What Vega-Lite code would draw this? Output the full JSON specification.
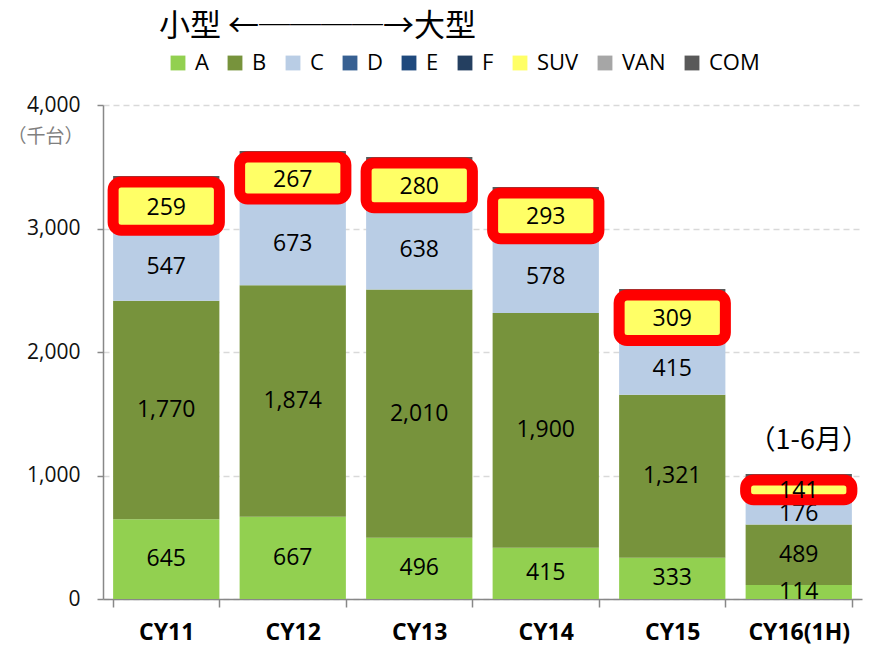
{
  "$schema": "https://vega.github.io/schema/vega-lite/v6.json",
  "width": 759,
  "height": 494,
  "autosize": {"type": "none"},
  "padding": {"left": 103, "top": 105, "right": 13, "bottom": 47},
  "background": "white",
  "config": {
    "font": "Open Sans, Noto Sans CJK JP",
    "view": {"stroke": null},
    "axisY": {
      "titleAngle": 0,
      "titleAlign": "right",
      "titleBaseline": "middle",
      "titleX": -20,
      "titleY": 31,
      "titleColor": "#7f7f7f",
      "titleFontWeight": "normal",
      "titleFont": "Noto Sans CJK JP",
      "labelColor": "#111111",
      "labelPadding": 17,
      "tickSize": 6,
      "tickColor": "#888888",
      "tickWidth": 1.5,
      "domainColor": "#888888",
      "domainWidth": 1.5,
      "grid": true,
      "gridColor": "#d9d9d9",
      "gridDash": [6, 4],
      "gridWidth": 1.3
    }
  },
  "title": {
    "text": "小型 ←────→大型",
    "anchor": "start",
    "frame": "group",
    "dx": 56,
    "offset": 9,
    "fontSize": 31,
    "font": "Noto Sans CJK JP",
    "fontWeight": "normal",
    "color": "black"
  },
  "datasets": {
    "sales": [
      {"year": "CY11", "seg": "A", "value": 645},
      {"year": "CY11", "seg": "B", "value": 1770},
      {"year": "CY11", "seg": "C", "value": 547},
      {"year": "CY11", "seg": "D", "value": 45},
      {"year": "CY11", "seg": "E", "value": 20},
      {"year": "CY11", "seg": "F", "value": 5},
      {"year": "CY11", "seg": "SUV", "value": 259},
      {"year": "CY11", "seg": "VAN", "value": 34},
      {"year": "CY11", "seg": "COM", "value": 100},
      {"year": "CY12", "seg": "A", "value": 667},
      {"year": "CY12", "seg": "B", "value": 1874},
      {"year": "CY12", "seg": "C", "value": 673},
      {"year": "CY12", "seg": "D", "value": 35},
      {"year": "CY12", "seg": "E", "value": 15},
      {"year": "CY12", "seg": "F", "value": 5},
      {"year": "CY12", "seg": "SUV", "value": 267},
      {"year": "CY12", "seg": "VAN", "value": 21},
      {"year": "CY12", "seg": "COM", "value": 70},
      {"year": "CY13", "seg": "A", "value": 496},
      {"year": "CY13", "seg": "B", "value": 2010},
      {"year": "CY13", "seg": "C", "value": 638},
      {"year": "CY13", "seg": "D", "value": 35},
      {"year": "CY13", "seg": "E", "value": 15},
      {"year": "CY13", "seg": "F", "value": 5},
      {"year": "CY13", "seg": "SUV", "value": 280},
      {"year": "CY13", "seg": "VAN", "value": 25},
      {"year": "CY13", "seg": "COM", "value": 75},
      {"year": "CY14", "seg": "A", "value": 415},
      {"year": "CY14", "seg": "B", "value": 1900},
      {"year": "CY14", "seg": "C", "value": 578},
      {"year": "CY14", "seg": "D", "value": 35},
      {"year": "CY14", "seg": "E", "value": 15},
      {"year": "CY14", "seg": "F", "value": 5},
      {"year": "CY14", "seg": "SUV", "value": 293},
      {"year": "CY14", "seg": "VAN", "value": 25},
      {"year": "CY14", "seg": "COM", "value": 70},
      {"year": "CY15", "seg": "A", "value": 333},
      {"year": "CY15", "seg": "B", "value": 1321},
      {"year": "CY15", "seg": "C", "value": 415},
      {"year": "CY15", "seg": "D", "value": 30},
      {"year": "CY15", "seg": "E", "value": 12},
      {"year": "CY15", "seg": "F", "value": 5},
      {"year": "CY15", "seg": "SUV", "value": 309},
      {"year": "CY15", "seg": "VAN", "value": 20},
      {"year": "CY15", "seg": "COM", "value": 65},
      {"year": "CY16(1H)", "seg": "A", "value": 114},
      {"year": "CY16(1H)", "seg": "B", "value": 489},
      {"year": "CY16(1H)", "seg": "C", "value": 176},
      {"year": "CY16(1H)", "seg": "D", "value": 20},
      {"year": "CY16(1H)", "seg": "E", "value": 8},
      {"year": "CY16(1H)", "seg": "F", "value": 2},
      {"year": "CY16(1H)", "seg": "SUV", "value": 141},
      {"year": "CY16(1H)", "seg": "VAN", "value": 12},
      {"year": "CY16(1H)", "seg": "COM", "value": 50}
    ],
    "segs": [
      {"seg": "A", "tier": "body", "rank": 1},
      {"seg": "B", "tier": "body", "rank": 2},
      {"seg": "C", "tier": "body", "rank": 3},
      {"seg": "D", "tier": "top", "rank": 4},
      {"seg": "E", "tier": "top", "rank": 5},
      {"seg": "F", "tier": "top", "rank": 6},
      {"seg": "SUV", "tier": "top", "rank": 7},
      {"seg": "VAN", "tier": "top", "rank": 8},
      {"seg": "COM", "tier": "top", "rank": 9}
    ]
  },
  "data": {"name": "sales"},
  "transform": [
    {"lookup": "seg", "from": {"data": {"name": "segs"}, "key": "seg", "fields": ["tier", "rank"]}}
  ],
  "encoding": {
    "x": {
      "field": "year",
      "type": "nominal",
      "sort": ["CY11", "CY12", "CY13", "CY14", "CY15", "CY16(1H)"],
      "scale": {"paddingInner": 0.16, "paddingOuter": 0.08},
      "axis": {
        "title": null,
        "labelAngle": 0,
        "labelFontSize": 23,
        "labelFontWeight": "bold",
        "labelColor": "black",
        "tickSize": 8,
        "tickBand": "extent",
        "tickColor": "#888888",
        "tickWidth": 1.5,
        "domainColor": "#888888",
        "domainWidth": 1.5,
        "labelPadding": 14,
        "grid": false
      }
    }
  },
  "layer": [
    {
      "mark": {"type": "bar"},
      "encoding": {
        "y": {
          "field": "value",
          "type": "quantitative",
          "stack": "zero",
          "scale": {"domain": [0, 4000], "nice": false},
          "axis": {"title": "（千台）", "values": [0, 1000, 2000, 3000, 4000], "format": ",.0f", "labelFontSize": 21, "titleFontSize": 19}
        },
        "color": {
          "field": "seg",
          "type": "nominal",
          "sort": ["A", "B", "C", "D", "E", "F", "SUV", "VAN", "COM"],
          "scale": {
            "domain": ["A", "B", "C", "D", "E", "F", "SUV", "VAN", "COM"],
            "range": ["#92D050", "#77933C", "#B9CDE5", "#376092", "#1F497D", "#243F60", "#FFFF66", "#A6A6A6", "#595959"]
          },
          "legend": {
            "orient": "none",
            "legendX": 64,
            "legendY": -53,
            "direction": "horizontal",
            "columns": 9,
            "title": null,
            "symbolType": "square",
            "symbolSize": 220,
            "symbolStrokeWidth": 0,
            "labelFontSize": 22,
            "labelColor": "black",
            "labelOffset": 6,
            "columnPadding": 15
          }
        },
        "order": {"field": "rank", "type": "quantitative"}
      }
    },
    {
      "transform": [
        {"stack": "value", "groupby": ["year"], "sort": [{"field": "rank", "order": "ascending"}], "as": ["s0", "s1"]},
        {"filter": "datum.tier === 'body'"},
        {"fold": ["s0", "s1"], "as": ["edge", "pos"]},
        {"aggregate": [{"op": "mean", "field": "pos", "as": "mid"}], "groupby": ["year", "seg", "value"]}
      ],
      "mark": {"type": "text", "fontSize": 23, "color": "black", "baseline": "middle"},
      "encoding": {
        "y": {"field": "mid", "type": "quantitative", "axis": {"title": "（千台）", "values": [0, 1000, 2000, 3000, 4000], "format": ",.0f", "labelFontSize": 21, "titleFontSize": 19}},
        "text": {"field": "value", "type": "quantitative", "format": ","}
      }
    },
    {
      "transform": [
        {"stack": "value", "groupby": ["year"], "sort": [{"field": "rank", "order": "ascending"}], "as": ["s0", "s1"]},
        {"joinaggregate": [{"op": "min", "field": "s0", "as": "blo"}, {"op": "max", "field": "s1", "as": "bhi"}], "groupby": ["year", "tier"]},
        {"filter": "datum.seg === 'SUV'"}
      ],
      "mark": {"type": "bar", "fill": "#FFFF66", "stroke": "#FF0000", "strokeWidth": 11, "cornerRadius": 8, "yOffset": 6, "y2Offset": -3},
      "encoding": {
        "y": {"field": "bhi", "type": "quantitative", "axis": {"title": "（千台）", "values": [0, 1000, 2000, 3000, 4000], "format": ",.0f", "labelFontSize": 21, "titleFontSize": 19}},
        "y2": {"field": "blo"}
      }
    },
    {
      "transform": [
        {"stack": "value", "groupby": ["year"], "sort": [{"field": "rank", "order": "ascending"}], "as": ["s0", "s1"]},
        {"joinaggregate": [{"op": "min", "field": "s0", "as": "blo"}, {"op": "max", "field": "s1", "as": "bhi"}], "groupby": ["year", "tier"]},
        {"filter": "datum.seg === 'SUV'"},
        {"fold": ["blo", "bhi"], "as": ["edge", "pos"]},
        {"aggregate": [{"op": "mean", "field": "pos", "as": "mid"}], "groupby": ["year", "value"]}
      ],
      "mark": {"type": "text", "fontSize": 23, "color": "black", "baseline": "middle", "dy": 3},
      "encoding": {
        "y": {"field": "mid", "type": "quantitative", "axis": {"title": "（千台）", "values": [0, 1000, 2000, 3000, 4000], "format": ",.0f", "labelFontSize": 21, "titleFontSize": 19}},
        "text": {"field": "value", "type": "quantitative", "format": ","}
      }
    },
    {
      "transform": [
        {"aggregate": [{"op": "sum", "field": "value", "as": "total"}], "groupby": ["year"]},
        {"filter": "datum.year === 'CY16(1H)'"}
      ],
      "mark": {"type": "text", "fontSize": 27, "font": "Noto Sans CJK JP", "color": "black", "baseline": "middle", "dy": -33, "dx": 10},
      "encoding": {
        "y": {"field": "total", "type": "quantitative", "axis": {"title": "（千台）", "values": [0, 1000, 2000, 3000, 4000], "format": ",.0f", "labelFontSize": 21, "titleFontSize": 19}},
        "text": {"value": "（1-6月）"}
      }
    }
  ]
}
